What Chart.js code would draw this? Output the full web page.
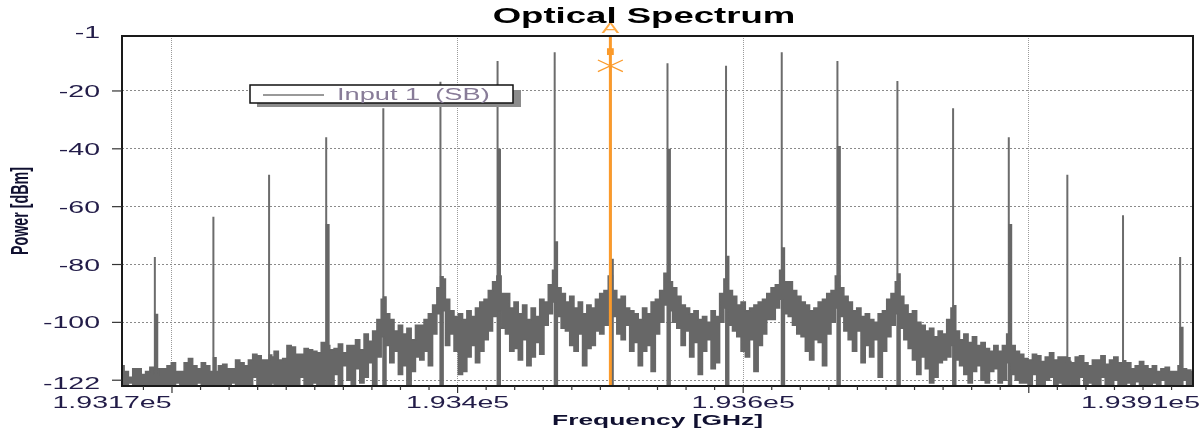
<!DOCTYPE html>
<html>
<head>
<meta charset="utf-8">
<title>Optical Spectrum</title>
<script src="https://cdn.jsdelivr.net/npm/chart.js@4.4.0/dist/chart.umd.min.js"></script>
<style>
  body { margin: 0; background: #fff; }
  #wrap { position: relative; width: 1202px; height: 429px; }
</style>
</head>
<body>
<div id="wrap"><canvas id="spectrumChart"></canvas></div>
<script>
// Frequency axis [GHz]
const freqMin = 193165;
const freqMax = 193915;
const freqStep = 3; // spacing of the noise floor samples
const xTickValues = [193165, 193400, 193600, 193915];
const xTickLabels = ['1.9317e5', '1.934e5', '1.936e5', '1.9391e5'];
const xGridValues = [193200, 193400, 193600, 193800];

// Power axis [dBm]
const powerMin = -122;
const powerMax = -1;
const yTickValues = [-1, -20, -40, -60, -80, -100, -122];
const yGridValues = [-20, -40, -60, -80, -100, -120];

// Discrete spectral lines: frequency, peak power, and top of the wider base next to each line
const lineFreqs = [193188, 193229, 193268, 193308, 193348, 193388, 193428, 193468, 193507, 193547,
                   193588, 193627, 193666, 193708, 193747, 193786, 193827, 193866, 193906];
const linePowers = [-77.4, -63.5, -49, -36, -26, -16.8, -9.6, -6.6, -11.3, -10.4,
                    -11.3, -6.6, -9.6, -16.6, -26, -36, -49, -63, -77.4];
const lineShoulders = [-97, -112, -111, -66, -91, -84, -40, -72, -78, -40,
                       -77, -74, -39, -83, -94, -66, -112, -113, -101.5];

// Noise floor, max and min of the trace in each freqStep bin starting at freqMin
const noiseUpper = [
  -115, -117, -119, -116, -116, -118, -117, -115.5, -118, -116,
  -116, -115, -114, -117, -117, -114, -112.5, -115, -116, -114,
  -115, -117, -117, -115, -114.5, -116, -116, -113, -114, -115,
  -113, -111, -111.5, -113, -113, -112, -110, -113, -112.5, -108,
  -108.5, -111, -111, -109, -109.5, -110, -110.5, -107, -108, -109.5,
  -109, -107.5, -110.5, -108, -108, -106, -109.5, -104, -106.5, -103,
  -99, -92, -97, -99, -103, -101, -104, -102, -106, -101,
  -101, -99, -97, -94, -88, -85, -92, -96, -98, -97,
  -99, -96, -98, -95, -93, -92, -89, -86, -84, -90,
  -90, -95, -93, -97, -94, -99, -95, -98, -92, -93,
  -87, -82, -88, -90, -93, -91, -95, -93, -97, -94,
  -95, -92, -90, -89, -84, -89, -92, -91, -95, -96,
  -97, -99, -95, -97, -93, -92, -89, -83, -86, -88,
  -91, -94, -95, -97, -96, -99, -98, -100, -96, -98,
  -90, -85, -89, -91, -94, -93, -96, -95, -94, -93,
  -92, -90, -88, -87, -82, -86, -86, -89, -91, -93,
  -94, -96, -95, -93, -92, -90, -89, -84, -88, -91,
  -93, -96, -95, -98, -97, -99, -100, -97, -96, -92,
  -90, -86, -91, -94, -97, -96, -100, -101, -103, -102,
  -105, -103, -104, -99, -95, -103, -106, -104, -107, -105,
  -108, -107, -109, -110, -108, -110, -108, -104, -108, -110,
  -111, -112.5, -113, -111, -111.5, -113.5, -112, -110.5, -113, -112,
  -112, -113.5, -114, -112, -111.5, -114, -115, -113, -113, -111.5,
  -114.5, -113, -112, -114, -115, -114, -116, -115, -113.5, -115,
  -116, -115, -117, -116, -115.5, -117, -117, -115, -116, -116.5, -117
];
const noiseLower = [
  -122, -122, -121, -122, -122, -122, -121.5, -122, -122, -122,
  -122, -122, -122, -121, -122, -122, -122, -122, -121, -122,
  -122, -121.5, -122, -122, -122, -122, -121, -122, -122, -122,
  -122, -119, -122, -122, -122, -121, -122, -122, -122, -122,
  -122, -122, -119, -122, -122, -121, -122, -122, -120, -122,
  -118, -122, -115, -120, -122, -116, -121, -119, -114, -122,
  -112, -105, -108, -114, -110, -118, -115, -122, -117, -112,
  -113, -110, -115, -104, -97, -96, -108, -104, -110, -118,
  -117, -112, -108, -114, -110, -106, -103, -98, -96, -102,
  -104, -110, -109, -113, -106, -115, -112, -107, -111, -101,
  -97, -93, -98, -102, -103, -108, -110, -104, -115, -109,
  -108, -103, -104, -101, -95, -98, -104, -106, -101, -110,
  -107, -115, -110, -108, -117, -104, -100, -94, -96, -100,
  -102, -108, -103, -112, -107, -118, -110, -106, -116, -114,
  -100, -95, -101, -103, -105, -110, -112, -106, -117, -108,
  -104, -99, -99, -95, -92, -97, -98, -101, -104, -105,
  -110, -113, -106, -107, -115, -104, -100, -95, -98, -103,
  -106, -110, -103, -114, -108, -112, -106, -119, -110, -105,
  -101, -97, -102, -106, -109, -113, -118, -112, -116, -121,
  -119, -114, -113, -112, -108, -113, -115, -118, -121, -117,
  -115, -120, -121, -117, -116, -121, -120, -114, -118, -120,
  -121, -121, -122, -118, -122, -122, -120, -119, -122, -121,
  -122, -120.5, -122, -121.5, -119, -122, -121, -122, -122, -119,
  -122, -121.5, -120, -122, -122, -121, -122, -120.5, -122, -121.5,
  -122, -121, -122, -120, -122, -121.5, -122, -122, -120, -122, -122
];

// Marker A
const markerFreq = 193507;
const markerRefPower = -6.4;
const markerLabel = 'A';

const traceLabel = 'Input 1  (SB)';

const upperPoints = noiseUpper.map((p, i) => ({ x: freqMin + i * freqStep, y: p }));
const lowerPoints = noiseLower.map((p, i) => ({ x: freqMin + i * freqStep, y: p }));
const linePoints = [];
const shoulderPoints = [];
lineFreqs.forEach((f, i) => {
  linePoints.push({ x: f, y: powerMin }, { x: f, y: linePowers[i] }, { x: f, y: null });
  shoulderPoints.push({ x: f + 1, y: powerMin }, { x: f + 1, y: lineShoulders[i] }, { x: f + 1, y: null });
});

const FONT = "'Liberation Sans', Arial, sans-serif";
const SX = 1.7; // horizontal widening of the text
const TRACE = '#676767';

function wideText(ctx, text, x, y, align, font, color, sx = SX) {
  ctx.save();
  ctx.font = font;
  ctx.fillStyle = color;
  ctx.textBaseline = 'alphabetic';
  ctx.textAlign = 'left';
  const w = ctx.measureText(text).width * sx;
  const left = align === 'center' ? x - w / 2 : align === 'right' ? x - w : x;
  ctx.translate(left, y);
  ctx.scale(sx, 1);
  ctx.fillText(text, 0, 0);
  ctx.restore();
}

const markerPlugin = {
  id: 'marker',
  afterDatasetsDraw(chart) {
    const { ctx, chartArea, scales: { x, y } } = chart;
    const px = x.getPixelForValue(markerFreq);
    const orange = '#fb9a2a';
    ctx.save();
    ctx.strokeStyle = orange;
    ctx.lineWidth = 3;
    ctx.beginPath();
    ctx.moveTo(px, chartArea.top);
    ctx.lineTo(px, chartArea.bottom);
    ctx.stroke();
    // reference square
    const sy = y.getPixelForValue(markerRefPower);
    ctx.fillStyle = orange;
    ctx.fillRect(px - 3.4, sy - 3.4, 6.8, 6.8);
    // cross on the line peak
    const cy = y.getPixelForValue(linePowers[lineFreqs.indexOf(markerFreq)]);
    ctx.lineWidth = 1.3;
    ctx.beginPath();
    ctx.moveTo(px - 12.5, cy - 5.8);
    ctx.lineTo(px + 12.5, cy + 5.8);
    ctx.moveTo(px - 12.5, cy + 5.8);
    ctx.lineTo(px + 12.5, cy - 5.8);
    ctx.stroke();
    ctx.restore();
    wideText(ctx, markerLabel, px, chartArea.top - 3, 'center', '14px ' + FONT, '#ffaa44', 1.9);
  }
};

const framePlugin = {
  id: 'frame',
  afterDraw(chart) {
    const { ctx, chartArea: a, scales: { x, y } } = chart;
    ctx.save();
    // plot frame
    ctx.strokeStyle = '#1a1a1a';
    ctx.lineWidth = 2;
    ctx.strokeRect(a.left, a.top, a.right - a.left, a.bottom - a.top);

    // x tick marks, minor every 20 GHz, longer at the grid lines
    ctx.strokeStyle = '#333';
    ctx.lineWidth = 1.2;
    for (let f = 193180; f <= 193900; f += 20) {
      const px = x.getPixelForValue(f);
      const len = xGridValues.includes(f) ? 7 : 4;
      ctx.beginPath();
      ctx.moveTo(px, a.bottom);
      ctx.lineTo(px, a.bottom + len);
      ctx.stroke();
    }
    // y tick marks
    yGridValues.forEach(v => {
      const py = y.getPixelForValue(v);
      ctx.beginPath();
      ctx.moveTo(a.left - 10, py);
      ctx.lineTo(a.left, py);
      ctx.stroke();
    });
    ctx.restore();

    const tickFont = '16.8px ' + FONT;
    const tickColor = '#221c48';
    yTickValues.forEach(v => {
      let py = y.getPixelForValue(v);
      if (v === powerMax) py -= 4;
      if (v === powerMin) py -= 3;
      wideText(ctx, String(v), a.left - 22, py + 6, 'right', tickFont, tickColor);
    });
    xTickValues.forEach((v, i) => {
      let px = x.getPixelForValue(v);
      let align = 'center';
      if (i === 0) px -= 10;
      if (i === xTickValues.length - 1) { px += 7; align = 'right'; }
      wideText(ctx, xTickLabels[i], px, a.bottom + 22, align, tickFont, tickColor);
    });

    // titles
    wideText(ctx, 'Optical Spectrum', 644, 23, 'center', 'bold 21.5px ' + FONT, '#000');
    wideText(ctx, 'Frequency [GHz]', (a.left + a.right) / 2, 424.5, 'center', 'bold 15.5px ' + FONT, '#101030');
    ctx.save();
    ctx.translate(28, (a.top + a.bottom) / 2);
    ctx.rotate(-Math.PI / 2);
    ctx.scale(1, SX);
    ctx.font = 'bold 14.3px ' + FONT;
    ctx.fillStyle = '#101030';
    ctx.textAlign = 'center';
    ctx.textBaseline = 'alphabetic';
    ctx.fillText('Power [dBm]', 0, 0);
    ctx.restore();

    // legend box with drop shadow
    ctx.save();
    ctx.fillStyle = '#8c8c8c';
    ctx.fillRect(257, 90, 264, 17);
    ctx.fillStyle = '#fff';
    ctx.fillRect(250, 85, 263, 18);
    ctx.strokeStyle = '#111';
    ctx.lineWidth = 1.5;
    ctx.strokeRect(250, 85, 263, 18);
    ctx.strokeStyle = '#999';
    ctx.lineWidth = 2;
    ctx.beginPath();
    ctx.moveTo(263, 95);
    ctx.lineTo(324, 95);
    ctx.stroke();
    ctx.restore();
    wideText(ctx, chart.data.datasets[0].label, 337, 100, 'left', '16px ' + FONT, '#887c98');
  }
};

const ctx = document.getElementById('spectrumChart').getContext('2d');
new Chart(ctx, {
  type: 'line',
  data: {
    datasets: [
      {
        label: traceLabel,
        data: upperPoints,
        borderColor: TRACE,
        backgroundColor: TRACE,
        borderWidth: 1.5,
        stepped: 'middle',
        pointRadius: 0,
        fill: '+1'
      },
      {
        label: traceLabel,
        data: lowerPoints,
        borderColor: TRACE,
        borderWidth: 1.5,
        stepped: 'middle',
        pointRadius: 0
      },
      {
        label: traceLabel,
        data: shoulderPoints,
        borderColor: TRACE,
        borderWidth: 4,
        pointRadius: 0
      },
      {
        label: traceLabel,
        data: linePoints,
        borderColor: '#6c6c6c',
        borderWidth: 2,
        pointRadius: 0
      }
    ]
  },
  options: {
    animation: false,
    responsive: true,
    maintainAspectRatio: false,
    layout: { padding: { left: 122, top: 36, right: 9, bottom: 43 } },
    scales: {
      x: {
        type: 'linear',
        min: freqMin,
        max: freqMax,
        afterBuildTicks: s => { s.ticks = xGridValues.map(v => ({ value: v })); },
        ticks: { display: false },
        grid: { drawTicks: false, color: '#9a9a9a', lineWidth: 1 },
        border: { display: false, dash: [1, 1] }
      },
      y: {
        min: powerMin,
        max: powerMax,
        afterBuildTicks: s => { s.ticks = yGridValues.map(v => ({ value: v })); },
        ticks: { display: false },
        grid: { drawTicks: false, color: '#8a8a8a', lineWidth: 1 },
        border: { display: false, dash: [2, 2] }
      }
    },
    plugins: {
      legend: { display: false },
      title: { display: false },
      tooltip: { enabled: false },
      filler: { propagate: false }
    }
  },
  plugins: [markerPlugin, framePlugin]
});
</script>
</body>
</html>
